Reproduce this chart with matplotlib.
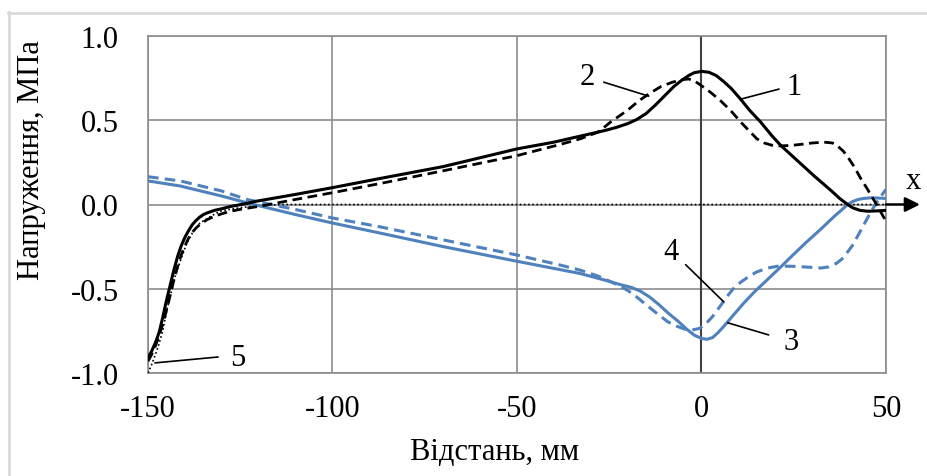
import matplotlib.pyplot as plt
from matplotlib.lines import Line2D

plt.rcParams['font.family'] = ['Liberation Serif', 'DejaVu Serif']

# curve 1 - solid black
x1 = [-150, -149, -148, -147, -146, -145, -144, -143, -142, -141, -140, -139, -138, -137, -136, -135, -134,
      -132, -130, -127.7, -124, -120.5, -110, -100, -87, -70, -50, -40, -35, -30, -26, -23, -20, -17.5,
      -15, -12.5, -10, -7.5, -5.5, -3.5, -2, 0, 2, 4, 6, 8, 10.6, 13, 16, 19, 21.5, 26, 30.5, 35, 37.5,
      39.6, 41, 43, 45, 47.5, 50]
y1 = [-0.91, -0.87, -0.82, -0.76, -0.67, -0.57, -0.48, -0.39, -0.31, -0.245, -0.195, -0.155, -0.12,
      -0.095, -0.075, -0.06, -0.05, -0.035, -0.025, -0.012, 0.003, 0.02, 0.06, 0.10, 0.155, 0.225, 0.33,
      0.37, 0.395, 0.42, 0.44, 0.458, 0.48, 0.505, 0.54, 0.59, 0.645, 0.70, 0.735, 0.765, 0.782, 0.79,
      0.785, 0.765, 0.73, 0.69, 0.625, 0.56, 0.49, 0.41, 0.35, 0.26, 0.17, 0.085, 0.035, 0.0, -0.02,
      -0.035, -0.04, -0.038, -0.035]

# curve 2 - dashed black
x2 = [-150, -149, -148, -147, -146, -145, -144, -143, -142, -141, -140, -139, -138, -137, -136, -134, -132,
      -130, -127.7, -124, -119.6, -110, -100, -87, -70, -50, -38.2, -32.8, -28, -24.6, -20, -17, -14, -11,
      -8, -5.5, -3.5, -2, 0, 2.5, 5.2, 8, 10.6, 13, 15, 17, 19, 21, 24, 27, 30, 33.2, 35.5, 37, 38.5, 40,
      41.5, 43, 45, 47.7, 50]
y2 = [-0.93, -0.89, -0.84, -0.78, -0.71, -0.63, -0.54, -0.45, -0.37, -0.30, -0.245, -0.20, -0.165, -0.14,
      -0.12, -0.09, -0.07, -0.055, -0.04, -0.025, -0.01, 0.03, 0.07, 0.125, 0.20, 0.29, 0.357, 0.39, 0.43,
      0.49, 0.56, 0.615, 0.66, 0.70, 0.725, 0.74, 0.745, 0.735, 0.705, 0.665, 0.615, 0.555, 0.49, 0.435,
      0.39, 0.365, 0.352, 0.348, 0.35, 0.357, 0.365, 0.37, 0.365, 0.345, 0.315, 0.27, 0.22, 0.16, 0.09,
      -0.01, -0.10]

# curve 3 - solid blue
x3 = [-150, -141.3, -130, -123.2, -110, -100, -87, -70, -50, -38.2, -32.8, -26, -21.9, -19, -16.5, -14,
      -11.5, -9, -6.5, -4, -2, 0, 1.5, 3, 4.5, 6, 8.5, 11.5, 14.5, 17.9, 21.5, 25, 28.5, 32.4, 36, 38,
      39.6, 41, 42.5, 44, 46, 48, 50]
y3 = [0.14, 0.11, 0.05, 0.01, -0.06, -0.11, -0.17, -0.25, -0.337, -0.387, -0.41, -0.45, -0.476, -0.492,
      -0.515, -0.55, -0.595, -0.645, -0.69, -0.74, -0.775, -0.795, -0.80, -0.79, -0.76, -0.724, -0.66,
      -0.584, -0.515, -0.445, -0.37, -0.295, -0.222, -0.145, -0.07, -0.032, 0.0, 0.018, 0.03, 0.036,
      0.04, 0.038, 0.036]

# curve 4 - dashed blue
x4 = [-150, -141.3, -130, -123.2, -110, -100, -87, -70, -50, -38.2, -32.8, -28, -24.6, -22, -20, -17.5,
      -15, -12, -9.2, -7, -4.5, -2.5, -0.5, 1.5, 3, 4.5, 6, 7.5, 9, 11, 13, 15, 17.9, 21, 25, 29, 32.4,
      34.5, 36.5, 38, 39.5, 41, 42.5, 44, 46, 48, 50]
y4 = [0.165, 0.14, 0.08, 0.03, -0.03, -0.08, -0.133, -0.21, -0.30, -0.36, -0.39, -0.425, -0.458, -0.485,
      -0.51, -0.55, -0.595, -0.648, -0.695, -0.72, -0.74, -0.745, -0.735, -0.70, -0.665, -0.62, -0.575,
      -0.53, -0.49, -0.455, -0.425, -0.40, -0.377, -0.365, -0.367, -0.372, -0.377, -0.37, -0.35, -0.325,
      -0.285, -0.24, -0.18, -0.12, -0.04, 0.03, 0.09]

# curve 5 - dotted black
x5 = [-150, -149, -148, -147.2, -146, -144.9, -143.8, -142.7, -141, -139.5, -138, -135.9, -133, -130.5,
      -127, -123.2, -118, -113, -100, -50, 0, 50]
y5 = [-1.0, -0.95, -0.89, -0.84, -0.75, -0.625, -0.53, -0.43, -0.32, -0.23, -0.17, -0.11, -0.07, -0.04,
      -0.025, -0.014, -0.005, 0, 0, 0, 0, 0]

x_ticks = [-150, -100, -50, 0, 50]
y_ticks = [1.0, 0.5, 0.0, -0.5, -1.0]
y_tick_labels = ['1.0', '0.5', '0.0', '-0.5', '-1.0']

# curve labels: text, text position, leader start, leader end
labels = [
    ('1', (25.0, 0.70), (21.0, 0.685), (10.6, 0.625)),
    ('2', (-30.9, 0.76), (-26.5, 0.726), (-14.3, 0.643)),
    ('4', (-8.3, -0.28), (-4.3, -0.357), (6.0, -0.577)),
    ('3', (24.2, -0.815), (18.2, -0.774), (7.1, -0.702)),
    ('5', (-125.8, -0.91), (-131, -0.905), (-148.1, -0.94)),
]

blue = '#4f81bd'
fs = 22

fig = plt.figure(figsize=(9.28, 4.77), dpi=100)
ax = fig.add_axes([148 / 928, 1 - 374 / 477, 738 / 928, 337 / 477])

# outer chart border
fig.add_artist(Line2D([9.5 / 928, 9.5 / 928], [0, 1 - 13 / 477], transform=fig.transFigure,
                      color='#d9d9d9', lw=2))
fig.add_artist(Line2D([8.5 / 928, 1], [1 - 13.5 / 477, 1 - 13.5 / 477], transform=fig.transFigure,
                      color='#d9d9d9', lw=2))

ax.set_xlim(-150, 50)
ax.set_ylim(-1.0, 1.0)
ax.set_xticks(x_ticks)
ax.set_xticklabels([str(v) for v in x_ticks])
ax.set_yticks(y_ticks)
ax.set_yticklabels(y_tick_labels)
ax.tick_params(length=0, labelsize=fs)
ax.tick_params(axis='y', pad=21)
ax.tick_params(axis='x', pad=15)
ax.grid(True, color='#8c8c8c', lw=1.2)
ax.set_axisbelow(True)
for s in ax.spines.values():
    s.set_color('#8c8c8c')
    s.set_linewidth(1.2)
ax.axvline(0, color='#404040', lw=1.5, zorder=1.5)

ax.plot(x5, y5, color='black', lw=1.2, ls=(0, (1, 1.5)), zorder=3)
ax.plot(x4, y4, color=blue, lw=2.2, ls=(0, (3.5, 2)), zorder=3)
ax.plot(x3, y3, color=blue, lw=2.2, zorder=3)
ax.plot(x2, y2, color='black', lw=2.0, ls=(0, (3.5, 2)), zorder=4)
ax.plot(x1, y1, color='black', lw=2.2, zorder=4)

for txt, tpos, p0, p1 in labels:
    ax.text(tpos[0], tpos[1], txt, fontsize=fs, ha='center', va='center')
    ax.annotate('', xy=p1, xytext=p0,
                arrowprops=dict(arrowstyle='-', color='black', lw=1.2, shrinkA=0, shrinkB=0))

# x axis arrow
ax.annotate('', xy=(1.046, 0), xytext=(1.0, 0), xycoords=('axes fraction', 'data'),
            textcoords=('axes fraction', 'data'),
            arrowprops=dict(arrowstyle='-|>', color='black', lw=1.8, mutation_scale=22,
                            shrinkA=0, shrinkB=0), annotation_clip=False)
ax.text(1.037, 0.14, 'x', transform=ax.get_yaxis_transform(), fontsize=fs, ha='center', va='center')

fig.text(32 / 928, 1 - 160 / 477, 'Напруження, МПа', rotation=90, fontsize=fs, ha='center', va='center')
fig.text(495 / 928, 1 - 453 / 477, 'Відстань, мм', fontsize=fs, ha='center', va='center')

fig.savefig('out.png', dpi=100)
